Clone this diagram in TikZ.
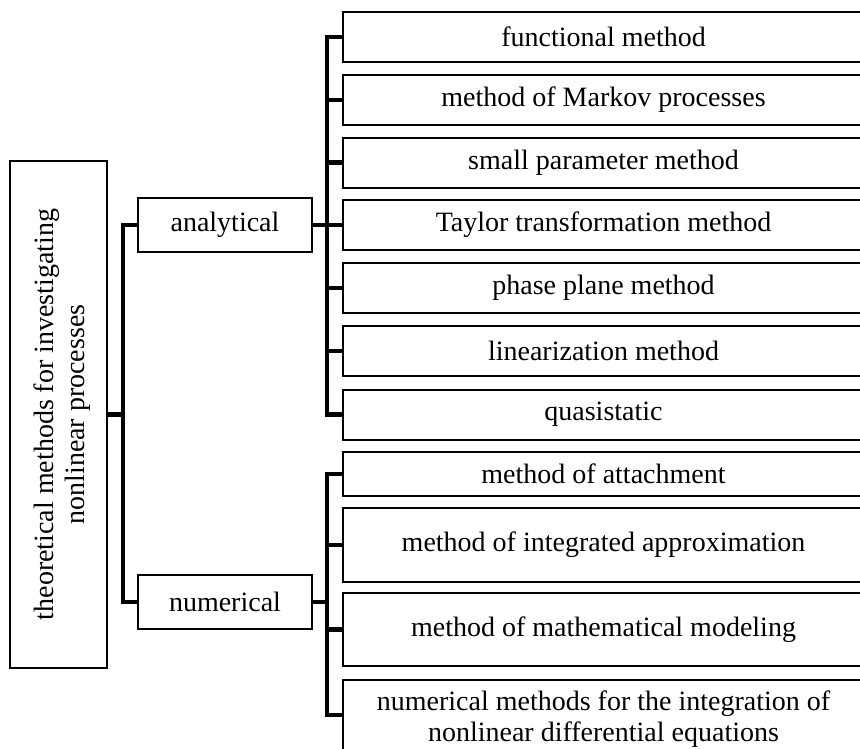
\documentclass[tikz,border=0pt]{standalone}
\usepackage{fontspec}
\setmainfont{Liberation Serif}
\newdimen\px \px=0.75pt
\tikzset{
  txt/.style={align=center, inner sep=0pt, font=\fontsize{21}{22.8}\selectfont},
  box/.style={txt, draw=black, line width=1.5pt, fill=white},
  rbox/.style={box, minimum width=521\px},
  mbox/.style={box, minimum width=174\px, minimum height=54\px},
  conn/.style={draw=black, line width=3.3pt, line join=miter, line cap=rect},
}
\begin{document}
\begin{tikzpicture}[x=0.75pt, y=-0.75pt]
\useasboundingbox (0,0) rectangle (860,749);
\clip (0,0) rectangle (860,749);
% root
\node[box, minimum width=97\px, minimum height=507\px] (root) at (58.5,414.5) {};
\node[txt, rotate=90] (rootlbl) at ([xshift=3.5\px]root.center)
  {theoretical methods for investigating\\nonlinear processes};
% middle
\node[mbox] (ana) at (225,225) {analytical};
\node[mbox] (num) at (225,602) {numerical};
% analytical methods
\node[rbox, minimum height=50\px] (a1) at (603.5,37) {functional method};
\node[rbox, minimum height=50\px] (a2) at (603.5,100) {method of Markov processes};
\node[rbox, minimum height=50\px] (a3) at (603.5,162.5) {small parameter method};
\node[rbox, minimum height=50\px] (a4) at (603.5,225) {Taylor transformation method};
\node[rbox, minimum height=50\px] (a5) at (603.5,288) {phase plane method};
\node[rbox, minimum height=50\px] (a6) at (603.5,351) {linearization method};
\node[rbox, minimum height=50\px] (a7) at (603.5,414.5) {quasistatic};
% numerical methods
\node[rbox, minimum height=44\px] (n1) at (603.5,474) {method of attachment};
\node[rbox, minimum height=74\px] (n2) at (603.5,545) {method of integrated approximation};
\node[rbox, minimum height=73\px] (n3) at (603.5,629.5) {method of mathematical modeling};
\node[rbox, minimum height=70\px] (n4) at (603.5,715) {};
\node[txt] (n4lbl) at ([yshift=-4\px]n4.center)
  {numerical methods for the integration of\\nonlinear differential equations};
% connectors
\coordinate (sa) at (327,0);
\coordinate (sr) at (123,0);
\draw[conn] (a1.west) -- (a1.west -| sa) |- (a7.west);
\foreach \n in {a2,a3,a4,a5,a6} \draw[conn] (\n.west) -- (\n.west -| sa);
\draw[conn] (ana.east) -- (ana.east -| sa);
\draw[conn] (n1.west) -- (n1.west -| sa) |- (n4.west);
\foreach \n in {n2,n3} \draw[conn] (\n.west) -- (\n.west -| sa);
\draw[conn] (num.east) -- (num.east -| sa);
\draw[conn] (ana.west) -- (ana.west -| sr) |- (num.west);
\draw[conn] (root.east) -- (root.east -| sr);
\end{tikzpicture}
\end{document}
